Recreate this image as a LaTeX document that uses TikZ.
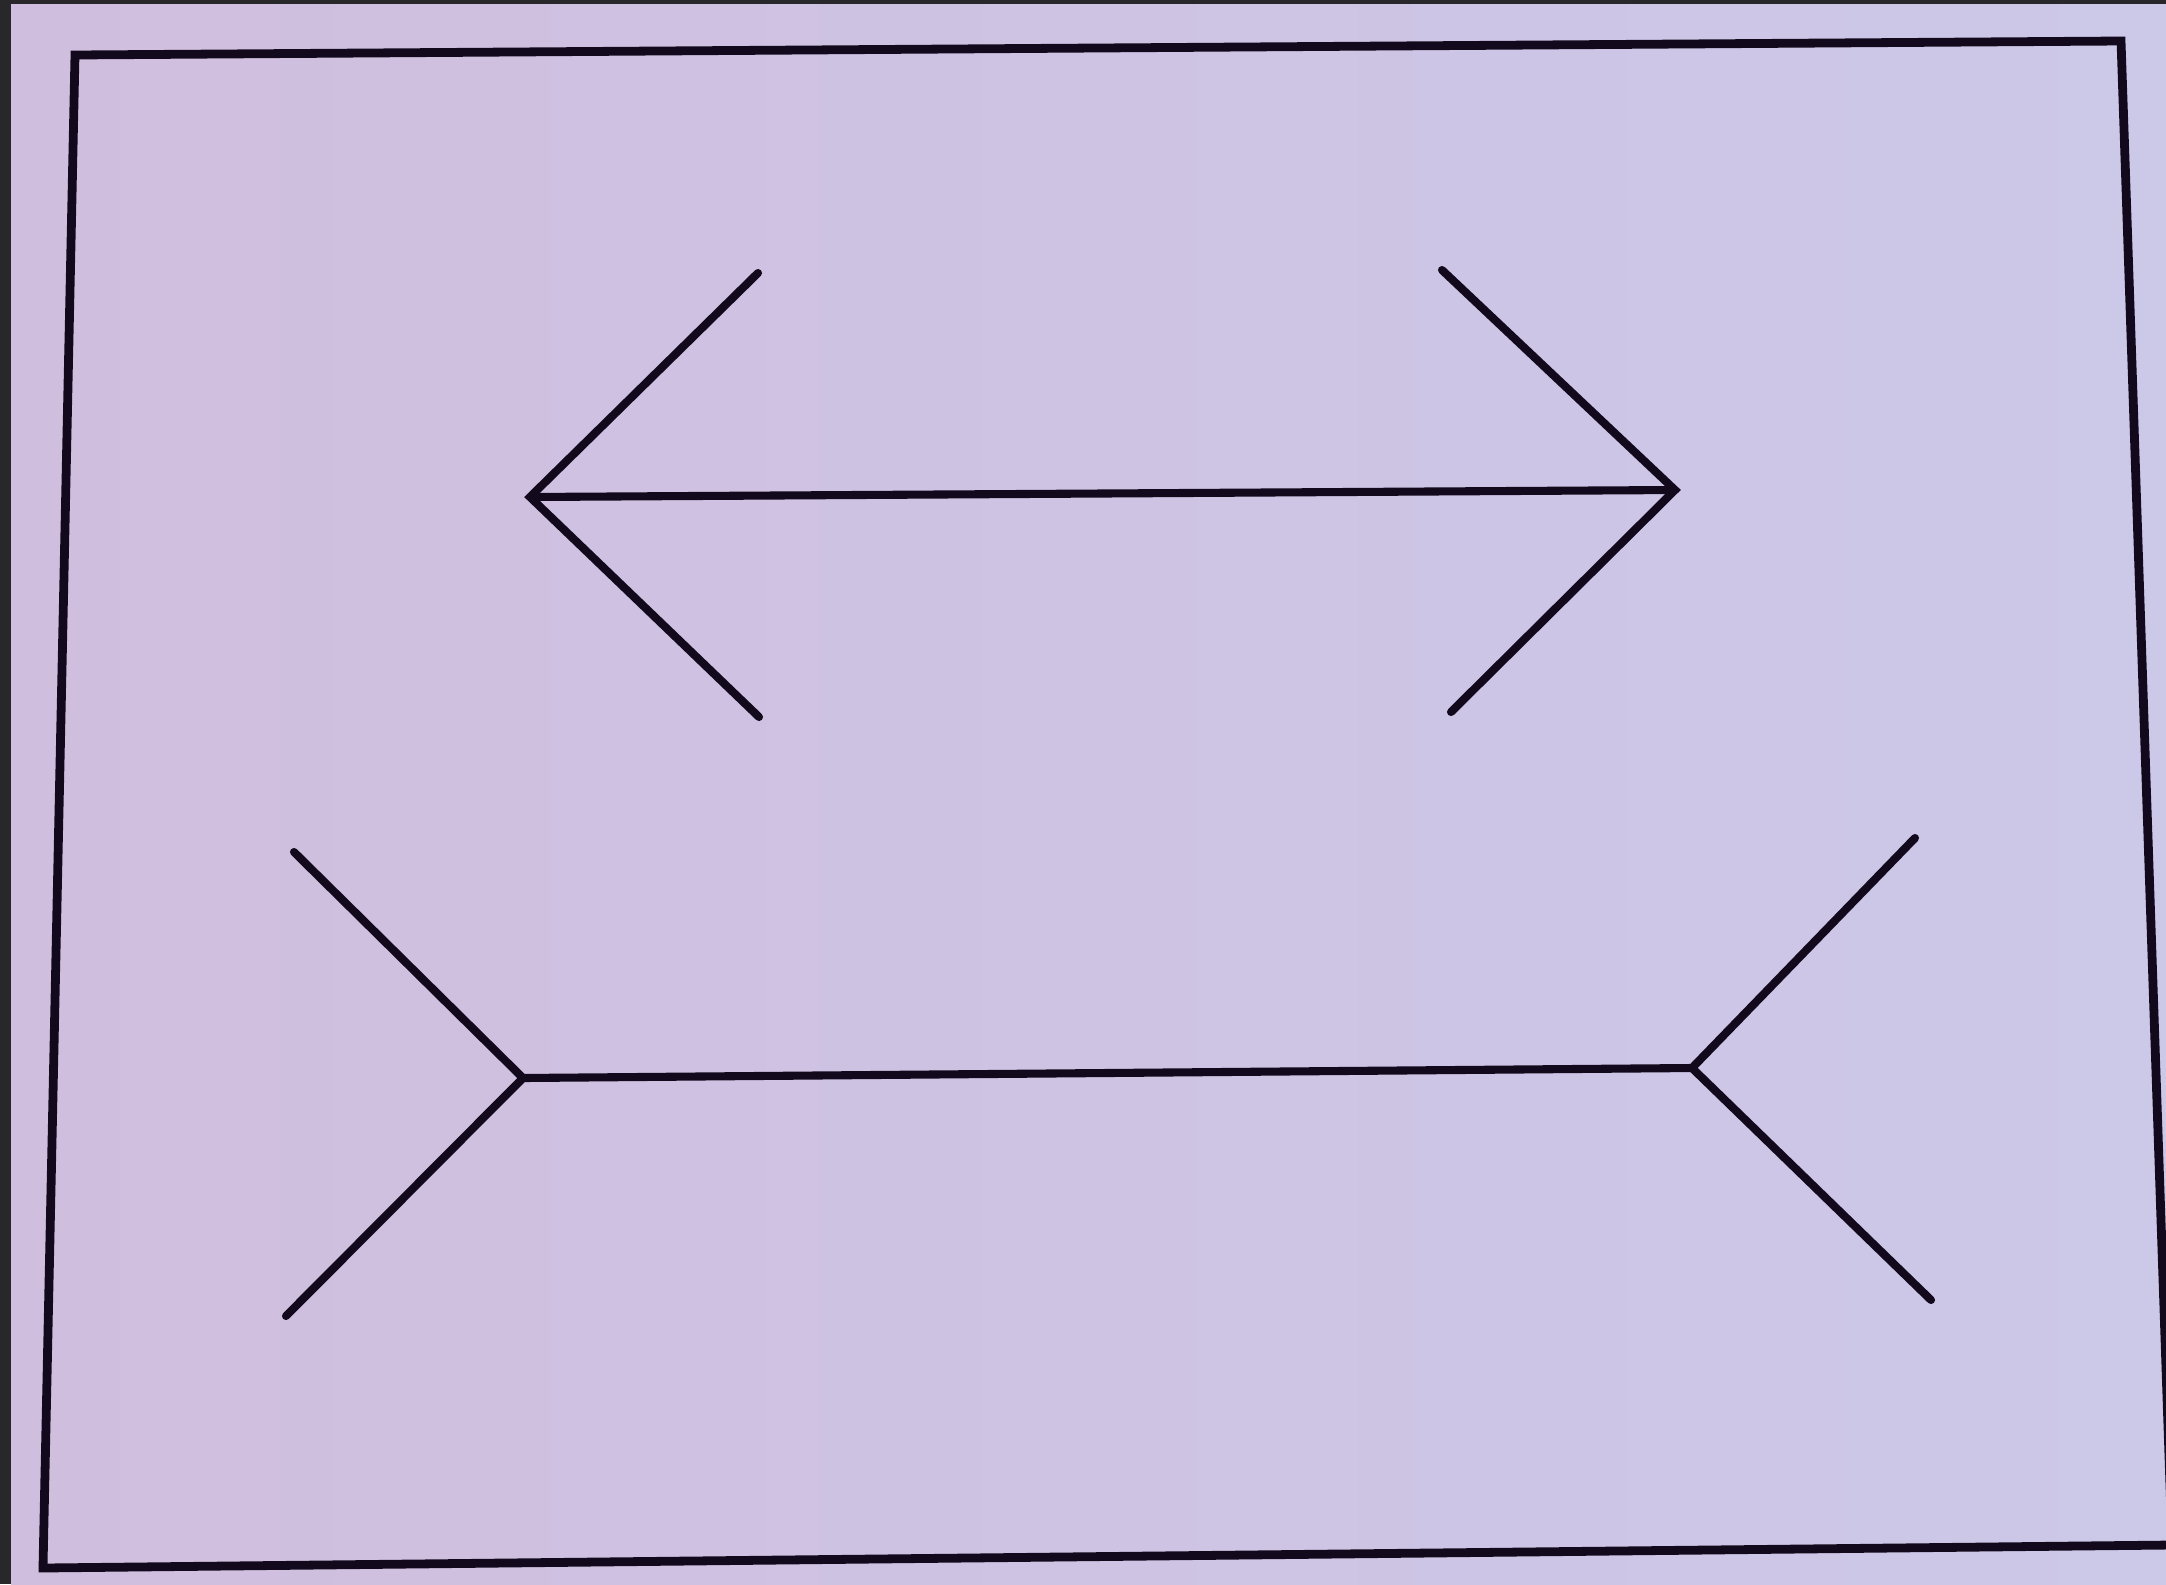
\documentclass[tikz,border=0pt]{standalone}
\definecolor{strip}{RGB}{40,40,42}
\definecolor{paperL}{RGB}{208,190,222}
\definecolor{paperR}{RGB}{204,200,232}
\definecolor{ink}{RGB}{18,10,28}
\begin{document}
\begin{tikzpicture}[x=0.01cm,y=-0.01cm,
  frameline/.style={draw=ink,line width=2.5pt,line join=miter},
  figline/.style={draw=ink,line width=2.3pt,line cap=round,line join=miter}]
\useasboundingbox (0,0) rectangle (2166,1584);
\fill[strip] (0,0) rectangle (2166,1584);
\shade[left color=paperL,right color=paperR] (11,4) rectangle (2166,1584);
% frame (photographed, slightly skewed)
\coordinate (f1) at (75,55);
\coordinate (f2) at (2121,41);
\coordinate (f3) at (2172,1545);
\coordinate (f4) at (43,1568);
\draw[frameline] (f3) -- (f2) -- (f1) -- (f4) -- (f3);
% upper figure: arrowheads pointing outward
\coordinate (a1) at (530,497);
\coordinate (a2) at (1675,490);
\coordinate (a1u) at (758,273);
\coordinate (a1d) at (759,717);
\coordinate (a2u) at (1442,270);
\coordinate (a2d) at (1451,712);
\draw[figline] (a1u) -- (a1) -- (a1d);
\draw[figline] (a2u) -- (a2) -- (a2d);
\draw[figline] (a1) -- (a2);
% lower figure: fins pointing outward
\coordinate (b1) at (523,1078);
\coordinate (b2) at (1692,1068);
\coordinate (b1u) at (294,852);
\coordinate (b1d) at (286,1316);
\coordinate (b2u) at (1915,838);
\coordinate (b2d) at (1931,1300);
\draw[figline] (b1u) -- (b1) -- (b1d);
\draw[figline] (b2u) -- (b2) -- (b2d);
\draw[figline] (b1) -- (b2);
\end{tikzpicture}
\end{document}
